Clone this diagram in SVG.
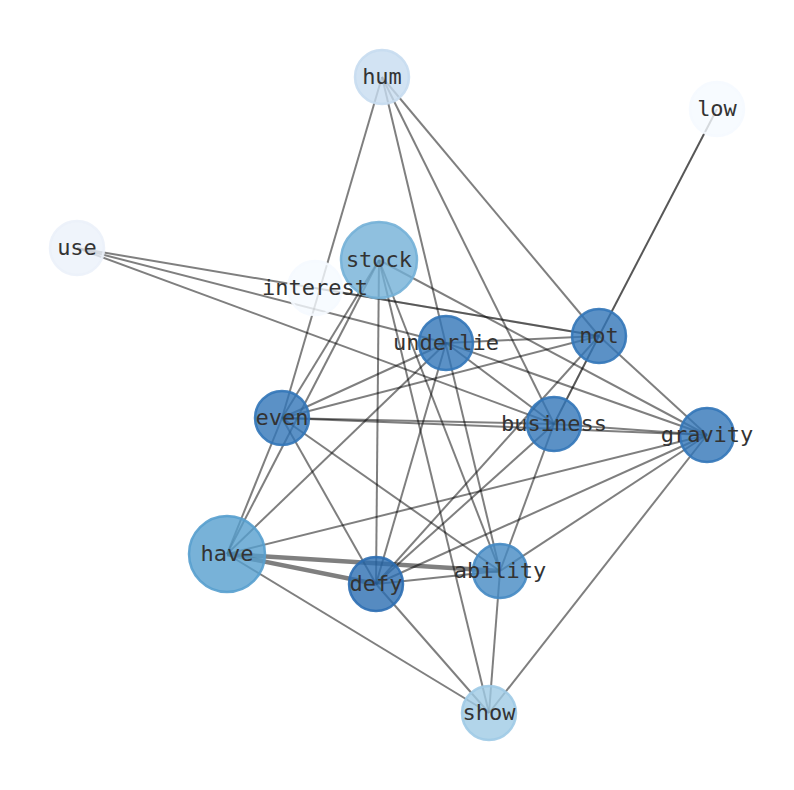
<svg xmlns="http://www.w3.org/2000/svg" width="794" height="790" viewBox="0 0 794 790">
<style>
.e{stroke:#000;stroke-opacity:0.5;stroke-width:2;fill:none}
.t{stroke-width:4.5}
.d{stroke-opacity:0.66}
.n circle{fill-opacity:0.8;stroke-width:2.5;stroke-opacity:0.9}
.n text{font-family:"DejaVu Sans Mono","Liberation Mono",monospace;font-size:22px;fill:#333;text-anchor:middle;dominant-baseline:central}
</style>
<rect width="794" height="790" fill="#fff"/>
<g id="edges">
<line class="e" x1="382" y1="77" x2="282" y2="418"/>
<line class="e" x1="382" y1="77" x2="500" y2="571"/>
<line class="e" x1="382" y1="77" x2="554" y2="424"/>
<line class="e" x1="382" y1="77" x2="599" y2="336"/>
<line class="e d" x1="717" y1="109" x2="599" y2="336"/>
<line class="e d" x1="599" y1="336" x2="554" y2="424"/>
<line class="e" x1="77" y1="248" x2="599" y2="336"/>
<line class="e" style="stroke-opacity:0.3" x1="315" y1="288" x2="599" y2="336"/>
<line class="e" x1="77" y1="248" x2="446" y2="343"/>
<line class="e" x1="77" y1="248" x2="554" y2="424"/>
<line class="e" x1="379" y1="260" x2="282" y2="418"/>
<line class="e" x1="379" y1="260" x2="227" y2="554"/>
<line class="e" x1="379" y1="260" x2="376" y2="584"/>
<line class="e" x1="379" y1="260" x2="500" y2="571"/>
<line class="e" x1="379" y1="260" x2="489" y2="713"/>
<line class="e" x1="379" y1="260" x2="707" y2="435"/>
<line class="e" x1="446" y1="343" x2="599" y2="336"/>
<line class="e" x1="446" y1="343" x2="282" y2="418"/>
<line class="e" x1="446" y1="343" x2="227" y2="554"/>
<line class="e" x1="446" y1="343" x2="376" y2="584"/>
<line class="e" x1="446" y1="343" x2="554" y2="424"/>
<line class="e" x1="446" y1="343" x2="707" y2="435"/>
<line class="e" x1="282" y1="418" x2="599" y2="336"/>
<line class="e" x1="282" y1="418" x2="554" y2="424"/>
<line class="e" x1="282" y1="418" x2="707" y2="435"/>
<line class="e" x1="282" y1="418" x2="376" y2="584"/>
<line class="e" x1="282" y1="418" x2="500" y2="571"/>
<line class="e" x1="282" y1="418" x2="227" y2="554"/>
<line class="e" x1="599" y1="336" x2="376" y2="584"/>
<line class="e" x1="599" y1="336" x2="707" y2="435"/>
<line class="e" x1="554" y1="424" x2="707" y2="435"/>
<line class="e" x1="554" y1="424" x2="376" y2="584"/>
<line class="e" x1="554" y1="424" x2="500" y2="571"/>
<line class="e t" x1="227" y1="554" x2="376" y2="584"/>
<line class="e t" x1="227" y1="554" x2="500" y2="571"/>
<line class="e" x1="227" y1="554" x2="707" y2="435"/>
<line class="e" x1="227" y1="554" x2="489" y2="713"/>
<line class="e" x1="376" y1="584" x2="500" y2="571"/>
<line class="e" x1="376" y1="584" x2="707" y2="435"/>
<line class="e" x1="376" y1="584" x2="489" y2="713"/>
<line class="e" x1="500" y1="571" x2="707" y2="435"/>
<line class="e" x1="500" y1="571" x2="489" y2="713"/>
<line class="e" x1="707" y1="435" x2="489" y2="713"/>
</g>
<g id="node-hum" class="n"><circle cx="382" cy="77" r="27" fill="#c7dcf0" stroke="#c7dcf0"/><text x="382" y="76">hum</text></g>
<g id="node-low" class="n"><circle cx="717" cy="109" r="27" fill="#f5faff" stroke="#f5faff"/><text x="717" y="108">low</text></g>
<g id="node-use" class="n"><circle cx="77" cy="248" r="27" fill="#ebf1fa" stroke="#ebf1fa"/><text x="77" y="247">use</text></g>
<g id="node-stock" class="n"><circle cx="379" cy="260" r="38" fill="#73b0d7" stroke="#73b0d7"/><text x="379" y="259">stock</text></g>
<g id="node-interest" class="n"><circle cx="315" cy="288" r="27" fill="#f5faff" stroke="#f5faff"/><text x="315" y="287">interest</text></g>
<g id="node-not" class="n"><circle cx="599" cy="336" r="27" fill="#3275b8" stroke="#3275b8"/><text x="599" y="335">not</text></g>
<g id="node-underlie" class="n"><circle cx="446" cy="343" r="27" fill="#3275b8" stroke="#3275b8"/><text x="446" y="342">underlie</text></g>
<g id="node-even" class="n"><circle cx="282" cy="418" r="27" fill="#3275b8" stroke="#3275b8"/><text x="282" y="417">even</text></g>
<g id="node-business" class="n"><circle cx="554" cy="424" r="27" fill="#3275b8" stroke="#3275b8"/><text x="554" y="423">business</text></g>
<g id="node-gravity" class="n"><circle cx="707" cy="435" r="27" fill="#3275b8" stroke="#3275b8"/><text x="707" y="434">gravity</text></g>
<g id="node-have" class="n"><circle cx="227" cy="554" r="38" fill="#569fce" stroke="#569fce"/><text x="227" y="553">have</text></g>
<g id="node-defy" class="n"><circle cx="376" cy="584" r="27" fill="#2c6eb2" stroke="#2c6eb2"/><text x="376" y="583">defy</text></g>
<g id="node-ability" class="n"><circle cx="500" cy="571" r="27" fill="#4589c3" stroke="#4589c3"/><text x="500" y="570">ability</text></g>
<g id="node-show" class="n"><circle cx="489" cy="713" r="27" fill="#9fcae5" stroke="#9fcae5"/><text x="489" y="712">show</text></g>
</svg>
